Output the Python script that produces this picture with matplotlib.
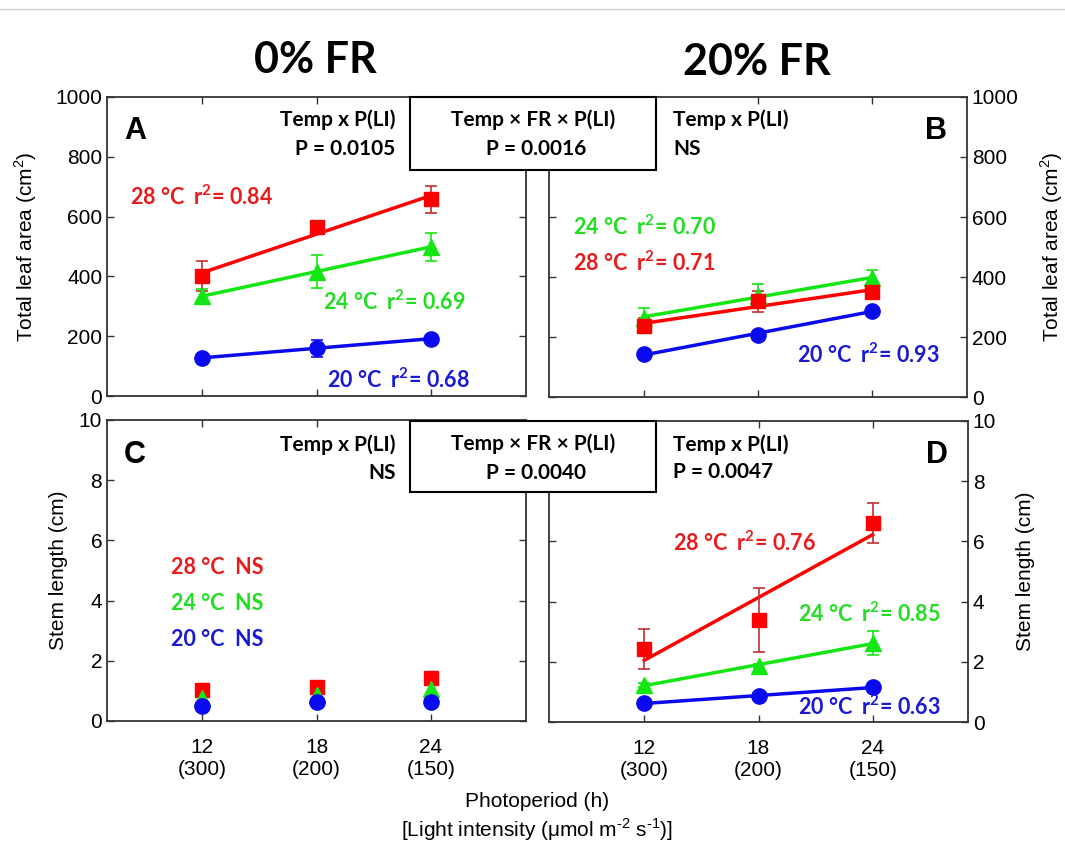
import matplotlib
matplotlib.use("Agg")
import matplotlib.pyplot as plt
from matplotlib.lines import Line2D
from matplotlib.patches import Rectangle
import numpy as np

plt.rcParams['font.family'] = ['Liberation Sans', 'DejaVu Sans']
plt.rcParams['mathtext.fontset'] = 'custom'
plt.rcParams['mathtext.rm'] = 'Liberation Sans'
plt.rcParams['mathtext.bf'] = 'Lato:bold'

# x axis: photoperiod (h) and light intensity
photoperiod = [12, 18, 24]
light_intensity = [300, 200, 150]
tick_labels = ["%d\n(%d)" % (p, l) for p, l in zip(photoperiod, light_intensity)]

# A: total leaf area, 0% FR
leaf0_28 = [400, 566, 658]
leaf0_28_err = [50, 8, 45]
leaf0_24 = [334, 416, 499]
leaf0_24_err = [25, 55, 47]
leaf0_20 = [128, 159, 192]
leaf0_20_err = [8, 27, 8]

# B: total leaf area, 20% FR
leaf20_28 = [237, 319, 349]
leaf20_28_err = [25, 35, 20]
leaf20_24 = [265, 338, 396]
leaf20_24_err = [33, 38, 28]
leaf20_20 = [143, 207, 288]
leaf20_20_err = [15, 8, 8]

# C: stem length, 0% FR
stem0_28 = [1.03, 1.14, 1.42]
stem0_24 = [0.75, 0.86, 1.06]
stem0_20 = [0.50, 0.64, 0.62]

# D: stem length, 20% FR
stem20_28 = [2.42, 3.39, 6.60]
stem20_28_err = [0.66, 1.05, 0.66]
stem20_24 = [1.23, 1.86, 2.63]
stem20_24_err = [0.08, 0.08, 0.39]
stem20_20 = [0.62, 0.87, 1.15]
stem20_20_err = [0.05, 0.05, 0.05]

RED, GREEN, BLUE = '#ff0000', '#14e614', '#0a0aee'
RED_T, GREEN_T, BLUE_T = '#e81c1c', '#22dd22', '#1a1ad2'

W, H = 1065, 846
fig = plt.figure(figsize=(W / 100, H / 100), dpi=100)


def box(l, t, r, b):
    return [l / W, 1 - b / H, (r - l) / W, (b - t) / H]


def txt(x, y, s, color='black', ha='left', size=15, family='Lato', weight='bold'):
    fig.text(x / W, 1 - y / H, s, color=color, ha=ha, va='center', zorder=6,
             fontsize=size, family=family, fontweight=weight)


def r2(temp, val):
    return r'%s °C  $\mathbf{r^2}$= %s' % (temp, val)


def draw(ax, y, err, color, marker, ms, ecolor=None, fit=True):
    x = np.array(photoperiod, dtype=float)
    y = np.array(y, dtype=float)
    if fit:
        k, b = np.polyfit(x, y, 1)
        ax.plot(x, k * x + b, color=color, lw=2.5, zorder=2)
    if err is not None:
        ax.errorbar(x, y, yerr=err, fmt='none', ecolor=ecolor or color,
                    elinewidth=1.2, capsize=4, capthick=1.2, zorder=3)
    ax.plot(x, y, ls='none', marker=marker, ms=ms, color=color, mec=color, zorder=4)


def style(ax, ymax, yticks, right=False, xlabels=False):
    ax.set_xlim(7, 29)
    ax.set_ylim(0, ymax)
    ax.set_xticks(photoperiod)
    ax.set_yticks(yticks)
    for sp in ax.spines.values():
        sp.set_linewidth(1.3)
        sp.set_color('#333333')
    ax.tick_params(direction='in', length=5, width=1, colors='#333333',
                   top=True, right=True, labelsize=15, labelcolor='black')
    if right:
        ax.tick_params(labelleft=False, labelright=True)
    if xlabels:
        ax.set_xticklabels(tick_labels, fontsize=15, linespacing=1.25)
        ax.tick_params(axis='x', pad=12)
    else:
        ax.set_xticklabels([])


axA = fig.add_axes(box(107, 97, 526, 396))
axB = fig.add_axes(box(549, 97, 967, 397))
axC = fig.add_axes(box(107, 420, 526, 721))
axD = fig.add_axes(box(549, 421, 968, 722))

draw(axA, leaf0_20, leaf0_20_err, BLUE, 'o', 11)
draw(axA, leaf0_24, leaf0_24_err, GREEN, '^', 11)
draw(axA, leaf0_28, leaf0_28_err, RED, 's', 10, ecolor='#c03030')

draw(axB, leaf20_20, leaf20_20_err, BLUE, 'o', 11)
draw(axB, leaf20_24, leaf20_24_err, GREEN, '^', 11)
draw(axB, leaf20_28, leaf20_28_err, RED, 's', 10, ecolor='#c03030')

draw(axC, stem0_28, None, RED, 's', 10, fit=False)
draw(axC, stem0_24, None, GREEN, '^', 11, fit=False)
draw(axC, stem0_20, None, BLUE, 'o', 11, fit=False)

draw(axD, stem20_20, stem20_20_err, BLUE, 'o', 11)
draw(axD, stem20_24, stem20_24_err, GREEN, '^', 11)
draw(axD, stem20_28, stem20_28_err, RED, 's', 10, ecolor='#c03030')

style(axA, 1000, range(0, 1001, 200))
style(axB, 1000, range(0, 1001, 200), right=True)
style(axC, 10, range(0, 11, 2), xlabels=True)
style(axD, 10, range(0, 11, 2), right=True, xlabels=True)

axA.set_ylabel('Total leaf area (cm$^{2}$)', fontsize=15, labelpad=12)
axB.set_ylabel('Total leaf area (cm$^{2}$)', fontsize=15, labelpad=14, rotation=90)
axB.yaxis.set_label_position('right')
axC.set_ylabel('Stem length (cm)', fontsize=15, labelpad=8)
axD.set_ylabel('Stem length (cm)', fontsize=15, labelpad=14, rotation=90)
axD.yaxis.set_label_position('right')

# column titles
txt(315, 60, '0% FR', size=31, ha='center')
txt(757, 62, '20% FR', size=31, ha='center')

# panel letters
for x, y, s in [(124, 131, 'A'), (925, 131, 'B'), (124, 455, 'C'), (926, 455, 'D')]:
    txt(x, y, s, size=22, family='Liberation Sans')

# three-way interaction boxes
for top, bottom, p in [(97, 170, 'P = 0.0016'), (421, 492, 'P = 0.0040')]:
    fig.add_artist(Rectangle((410 / W, 1 - bottom / H), 246 / W, (bottom - top) / H,
                             transform=fig.transFigure, fill=True, fc='white',
                             ec='black', lw=1.5, zorder=1))
    txt(533, top + 23, 'Temp × FR × P(LI)', ha='center')
    txt(536, top + 52, p, ha='center')

# Temp x P(LI) statistics
txt(395, 120, 'Temp x P(LI)', ha='right')
txt(395, 149, 'P = 0.0105', ha='right')
txt(673, 120, 'Temp x P(LI)')
txt(673, 149, 'NS')
txt(396, 445, 'Temp x P(LI)', ha='right')
txt(396, 473, 'NS', ha='right')
txt(673, 445, 'Temp x P(LI)')
txt(673, 472, 'P = 0.0047')

# regression labels
txt(130, 197, r2(28, '0.84'), RED_T, size=15.5)
txt(323, 302, r2(24, '0.69'), GREEN_T, size=15.5)
txt(327, 380, r2(20, '0.68'), BLUE_T, size=15.5)
txt(573, 227, r2(24, '0.70'), GREEN_T, size=15.5)
txt(573, 263, r2(28, '0.71'), RED_T, size=15.5)
txt(797, 355, r2(20, '0.93'), BLUE_T, size=15.5)
txt(171, 567, '28 °C  NS', RED_T, size=15.5)
txt(171, 603, '24 °C  NS', GREEN_T, size=15.5)
txt(171, 639, '20 °C  NS', BLUE_T, size=15.5)
txt(673, 543, r2(28, '0.76'), RED_T, size=15.5)
txt(798, 614, r2(24, '0.85'), GREEN_T, size=15.5)
txt(798, 707, r2(20, '0.63'), BLUE_T, size=15.5)

# shared x label
txt(537, 801, 'Photoperiod (h)', ha='center', size=15, family='Liberation Sans', weight='normal')
txt(537, 830, r'[Light intensity (μmol m$^{\text{-2}}$ s$^{\text{-1}}$)]', ha='center', size=15,
    family='Liberation Sans', weight='normal')

# page border line at top
fig.add_artist(Line2D([0, 1], [1 - 9 / H, 1 - 9 / H], color='#cccccc', lw=1,
                      transform=fig.transFigure))

fig.savefig('out.png', dpi=100)
